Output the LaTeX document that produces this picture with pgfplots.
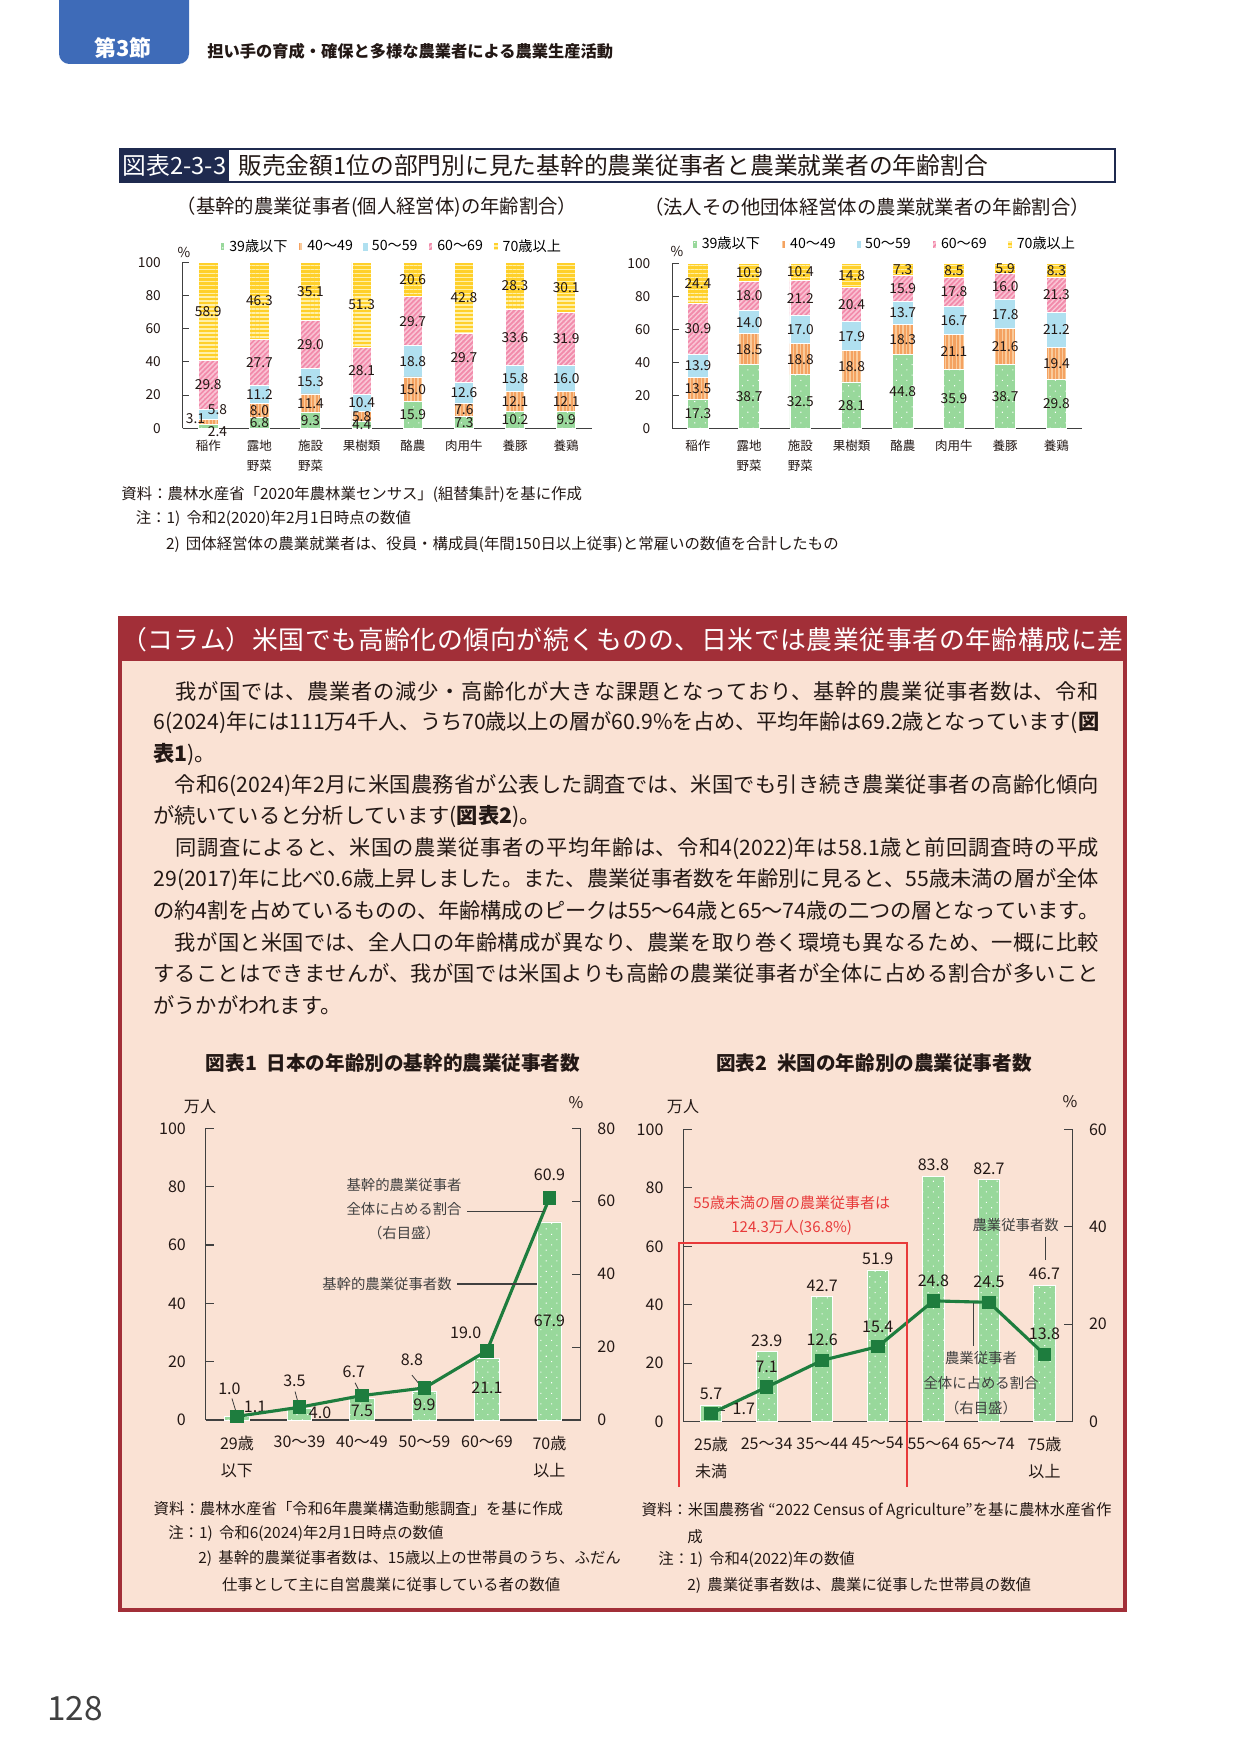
\documentclass[border=0pt]{standalone}
\usepackage{fontspec}
\setmainfont{Noto Sans CJK JP}
\usepackage{pgfplots}
\usepackage{pgfplotstable}
\pgfplotsset{compat=1.18}
\usetikzlibrary{patterns.meta}

\XeTeXlinebreaklocale "ja"
\XeTeXlinebreakskip=0pt plus 4pt minus 0.8pt

\definecolor{cGreen}{HTML}{98D89B}
\definecolor{cOrange}{HTML}{F4A261}
\definecolor{cOrangeL}{HTML}{F9CB9C}
\definecolor{cBlue}{HTML}{B0E0F0}
\definecolor{cPink}{HTML}{F28BAB}
\definecolor{cPinkL}{HTML}{F9C6D6}
\definecolor{cYellow}{HTML}{FFD02A}
\definecolor{cYellowL}{HTML}{FFF0A8}
\definecolor{cLine}{HTML}{1E7D3E}
\definecolor{tabBlue}{HTML}{3E6BB8}
\definecolor{navy}{HTML}{1F2A4F}
\definecolor{colRed}{HTML}{A22F38}
\definecolor{peach}{HTML}{FAE2D4}
\definecolor{annoRed}{HTML}{E83A3A}
\definecolor{axisGray}{HTML}{404040}
\definecolor{txt}{HTML}{231815}

\newcommand{\fs}[1]{\fontsize{#1}{#1}\selectfont}
\newcommand{\jline}[2]{\parbox{#1}{\parfillskip=0pt\relax #2}}

\pgfplotstableread{
x a b c d e
0 2.4 3.1 5.8 29.8 58.9
1 6.8 8.0 11.2 27.7 46.3
2 9.3 11.4 15.3 29.0 35.1
3 4.4 5.8 10.4 28.1 51.3
4 15.9 15.0 18.8 29.7 20.6
5 7.3 7.6 12.6 29.7 42.8
6 10.2 12.1 15.8 33.6 28.3
7 9.9 12.1 16.0 31.9 30.1
}\dataA

\pgfplotstableread{
x a b c d e
0 17.3 13.5 13.9 30.9 24.4
1 38.7 18.5 14.0 18.0 10.9
2 32.5 18.8 17.0 21.2 10.4
3 28.1 18.8 17.9 20.4 14.8
4 44.8 18.3 13.7 15.9 7.3
5 35.9 21.1 16.7 17.8 8.5
6 38.7 21.6 17.8 16.0 5.9
7 29.8 19.4 21.2 21.3 8.3
}\dataB

\pgfplotstableread{
x n p
0 1.1 1.0
1 4.0 3.5
2 7.5 6.7
3 9.9 8.8
4 21.1 19.0
5 67.9 60.9
}\dataC

\pgfplotstableread{
x n p
0 5.7 1.7
1 23.9 7.1
2 42.7 12.6
3 51.9 15.4
4 83.8 24.8
5 82.7 24.5
6 46.7 13.8
}\dataD

\pgfplotsset{
  swatch/.style={legend image code/.code={\path[##1,draw=none] (0pt,-1.9pt) rectangle (2.1pt,1.9pt);}},
  s39/.style={fill=cGreen, draw=white, line width=0.4pt, postaction={pattern={Dots[distance=3.6pt,radius=0.35pt,angle=45]}, pattern color=white}, swatch},
  s40/.style={fill=cOrange, draw=white, line width=0.4pt, postaction={pattern={Lines[angle=90,distance=1.7pt,line width=0.7pt]}, pattern color=cOrangeL}, swatch},
  s50/.style={fill=cBlue, draw=white, line width=0.4pt, swatch},
  s60/.style={fill=cPink, draw=white, line width=0.4pt, postaction={pattern={Lines[angle=45,distance=1.7pt,line width=0.7pt]}, pattern color=cPinkL}, swatch},
  s70/.style={fill=cYellow, draw=white, line width=0.4pt, postaction={pattern={Lines[angle=0,distance=1.9pt,line width=0.8pt]}, pattern color=cYellowL}, swatch},
  numfmt/.style={nodes near coords={\pgfmathprintnumber[fixed,fixed zerofill,precision=1,assume math mode=true]{\pgfplotspointmeta}}},
  topaxis/.style={
    scale only axis, anchor=south west,
    xmin=-0.5, xmax=7.5, ymin=0, ymax=100,
  },
}

\begin{document}
\begin{tikzpicture}
\path[use as bounding box] (0pt,0pt) rectangle (595.68pt,-841.92pt);
\fill[white] (0pt,0pt) rectangle (595.68pt,-841.92pt);

\begin{scope}[x=0.48pt,y=-0.48pt]
% header
\fill[tabBlue, rounded corners=5] (59,-12) rectangle (189,64);
\node[text=white, font=\fs{10.5}\bfseries] at (123,48) {第3節};
\node[anchor=west, text=txt, font=\fs{7.8}\bfseries, inner sep=0] at (207,51) {担い手の育成・確保と多様な農業者による農業生産活動};
% figure title
\draw[navy, line width=1pt] (120,149) rectangle (1115,182);
\fill[navy] (120,149) rectangle (229,182);
\node[text=white, font=\fs{11.4}] at (174.5,165.5) {図表2-3-3};
\node[anchor=west, text=txt, font=\fs{11.4}, inner sep=0] at (238,165.5) {販売金額1位の部門別に見た基幹的農業従事者と農業就業者の年齢割合};
\node[text=txt, font=\fs{9.3}] at (377,207) {（基幹的農業従事者(個人経営体)の年齢割合）};
\node[text=txt, font=\fs{9.3}] at (867,207) {（法人その他団体経営体の農業就業者の年齢割合）};
\node[text=txt, font=\fs{6.6}] at (184,252) {\%};
\node[text=txt, font=\fs{6.6}] at (677,251) {\%};
% notes
\node[anchor=west, text=txt, font=\fs{7.4}, inner sep=0] at (121,494.6) {資料：農林水産省「2020年農林業センサス」(組替集計)を基に作成};
\node[anchor=west, text=txt, font=\fs{7.4}, inner sep=0] at (135.4,519) {注：1)\hspace{0.4em}令和2(2020)年2月1日時点の数値};
\node[anchor=west, text=txt, font=\fs{7.4}, inner sep=0] at (165.6,545) {2)\hspace{0.4em}団体経営体の農業就業者は、役員・構成員(年間150日以上従事)と常雇いの数値を合計したもの};
% column box
\fill[peach] (120,618) rectangle (1125,1610);
\fill[colRed] (120,618) rectangle (1125,661);
\draw[colRed, line width=1.5pt] (120,618) rectangle (1125,1610);
\node[anchor=west, text=white, font=\fs{12.4}, inner sep=0] at (121,639.5) {\jline{481pt}{（コラム）米国でも高齢化の傾向が続くものの、日米では農業従事者の年齢構成に差}};
% body
\begin{scope}[every node/.style={anchor=west, text=txt, font=\fs{10.2}, inner sep=0}]
\node at (153,691.5) {\jline{454pt}{　我が国では、農業者の減少・高齢化が大きな課題となっており、基幹的農業従事者数は、令和}};
\node at (153,722.8) {\jline{454pt}{6(2024)年には111万4千人、うち70歳以上の層が60.9\%を占め、平均年齢は69.2歳となっています({\bfseries 図}}};
\node at (153,754.2) {{\bfseries 表1})。};
\node at (153,785.5) {\jline{454pt}{　令和6(2024)年2月に米国農務省が公表した調査では、米国でも引き続き農業従事者の高齢化傾向}};
\node at (153,816.8) {が続いていると分析しています({\bfseries 図表2})。};
\node at (153,848.2) {\jline{454pt}{　同調査によると、米国の農業従事者の平均年齢は、令和4(2022)年は58.1歳と前回調査時の平成}};
\node at (153,879.5) {\jline{454pt}{29(2017)年に比べ0.6歳上昇しました。また、農業従事者数を年齢別に見ると、55歳未満の層が全体}};
\node at (153,910.8) {\jline{454pt}{の約4割を占めているものの、年齢構成のピークは55〜64歳と65〜74歳の二つの層となっています。}};
\node at (153,942.2) {\jline{454pt}{　我が国と米国では、全人口の年齢構成が異なり、農業を取り巻く環境も異なるため、一概に比較}};
\node at (153,973.5) {\jline{454pt}{することはできませんが、我が国では米国よりも高齢の農業従事者が全体に占める割合が多いこと}};
\node at (153,1004.8) {がうかがわれます。};
\end{scope}
% chart titles
\node[text=txt, font=\fs{9.4}\bfseries] at (393,1063) {図表1\hspace{0.5em}日本の年齢別の基幹的農業従事者数};
\node[text=txt, font=\fs{9.4}\bfseries] at (874,1063) {図表2\hspace{0.5em}米国の年齢別の農業従事者数};
\node[text=txt, font=\fs{7.7}] at (200,1106.7) {万人};
\node[text=txt, font=\fs{7.7}] at (576,1103) {\%};
\node[text=txt, font=\fs{7.7}] at (683,1106.7) {万人};
\node[text=txt, font=\fs{7.7}] at (1070,1102) {\%};
% bottom notes
\begin{scope}[every node/.style={anchor=west, text=txt, font=\fs{7.4}, inner sep=0}]
\node at (153.3,1508.4) {資料：農林水産省「令和6年農業構造動態調査」を基に作成};
\node at (167.9,1534) {注：1)\hspace{0.4em}令和6(2024)年2月1日時点の数値};
\node at (198,1558.8) {2)\hspace{0.4em}基幹的農業従事者数は、15歳以上の世帯員のうち、ふだん};
\node at (221.6,1584.5) {仕事として主に自営農業に従事している者の数値};
\node at (641.2,1510.6) {資料：米国農務省 “2022 Census of Agriculture”を基に農林水産省作};
\node at (687,1536.4) {成};
\node at (658,1560) {注：1)\hspace{0.4em}令和4(2022)年の数値};
\node at (687,1585.6) {2)\hspace{0.4em}農業従事者数は、農業に従事した世帯員の数値};
\end{scope}
\node[text=axisGray, font=\fs{16}] at (75,1709) {128};
\end{scope}

% ---------- Chart A ----------
\begin{axis}[topaxis,
  at={(87.70pt,-205.58pt)}, width=196.32pt, height=79.68pt,
  ybar stacked, bar width=9.26pt,
  axis x line*=bottom, axis y line*=left,
  axis line style={draw=axisGray, line width=0.5pt},
  ytick={0,20,40,60,80,100}, tick align=inside, major tick length=3pt,
  ytick style={draw=axisGray, line width=0.5pt},
  yticklabel style={font=\fs{6.6}, text=txt, xshift=-7pt},
  /pgf/number format/assume math mode=true,
  xtick={0,...,7}, xtick style={draw=none},
  xticklabels={稲作,{露地\\野菜},{施設\\野菜},果樹類,酪農,肉用牛,養豚,養鶏},
  xticklabel style={font=\fontsize{6}{9.6}\selectfont, align=center, text=txt, yshift=-2pt},
  legend columns=5,
  legend style={at={(0.09,1.094)}, anchor=west, draw=none, fill=none, font=\fs{6.8}, inner sep=0pt,
    /tikz/every even column/.append style={column sep=3pt}},
  clip=false,
]
\addplot[s39] table[x=x,y=a]{\dataA};
\addplot[s40] table[x=x,y=b]{\dataA};
\addplot[s50] table[x=x,y=c]{\dataA};
\addplot[s60] table[x=x,y=d]{\dataA};
\addplot[s70] table[x=x,y=e]{\dataA};
\legend{39歳以下,40〜49,50〜59,60〜69,70歳以上}
\end{axis}
\begin{axis}[topaxis,
  at={(87.70pt,-205.58pt)}, width=196.32pt, height=79.68pt,
  hide axis, clip=false, point meta=explicit, numfmt,
  nodes near coords align=center,
  every node near coord/.append style={font=\fs{6.6}, text=txt, inner sep=0pt},
]
\addplot[draw=none, restrict x to domain=0.5:8] table[x=x, y expr=\thisrow{a}/2, meta=a]{\dataA};
\addplot[draw=none, restrict x to domain=0.5:8] table[x=x, y expr=\thisrow{a}+\thisrow{b}/2, meta=b]{\dataA};
\addplot[draw=none, restrict x to domain=0.5:8] table[x=x, y expr=\thisrow{a}+\thisrow{b}+\thisrow{c}/2, meta=c]{\dataA};
\addplot[draw=none] table[x=x, y expr=\thisrow{a}+\thisrow{b}+\thisrow{c}+\thisrow{d}/2, meta=d]{\dataA};
\addplot[draw=none] table[x=x, y expr=\thisrow{a}+\thisrow{b}+\thisrow{c}+\thisrow{d}+\thisrow{e}/2, meta=e]{\dataA};
\node[font=\fs{6.6}, text=txt, inner sep=0pt] at (axis cs:0.18,-2.0) {2.4};
\node[font=\fs{6.6}, text=txt, inner sep=0pt] at (axis cs:-0.25,6.0) {3.1};
\node[font=\fs{6.6}, text=txt, inner sep=0pt] at (axis cs:0.18,11.0) {5.8};
\end{axis}

% ---------- Chart B ----------
\begin{axis}[topaxis,
  at={(322.70pt,-205.58pt)}, width=196.66pt, height=79.2pt,
  ybar stacked, bar width=9.94pt,
  axis x line*=bottom, axis y line*=left,
  axis line style={draw=axisGray, line width=0.5pt},
  ytick={0,20,40,60,80,100}, tick align=inside, major tick length=3pt,
  ytick style={draw=axisGray, line width=0.5pt},
  yticklabel style={font=\fs{6.6}, text=txt, xshift=-7pt},
  /pgf/number format/assume math mode=true,
  xtick={0,...,7}, xtick style={draw=none},
  xticklabels={稲作,{露地\\野菜},{施設\\野菜},果樹類,酪農,肉用牛,養豚,養鶏},
  xticklabel style={font=\fontsize{6}{9.6}\selectfont, align=center, text=txt, yshift=-2pt},
  legend columns=5,
  legend style={at={(0.048,1.114)}, anchor=west, draw=none, fill=none, font=\fs{6.8}, inner sep=0pt,
    /tikz/every even column/.append style={column sep=8pt}},
  clip=false,
]
\addplot[s39] table[x=x,y=a]{\dataB};
\addplot[s40] table[x=x,y=b]{\dataB};
\addplot[s50] table[x=x,y=c]{\dataB};
\addplot[s60] table[x=x,y=d]{\dataB};
\addplot[s70] table[x=x,y=e]{\dataB};
\legend{39歳以下,40〜49,50〜59,60〜69,70歳以上}
\end{axis}
\begin{axis}[topaxis,
  at={(322.70pt,-205.58pt)}, width=196.66pt, height=79.2pt,
  hide axis, clip=false, point meta=explicit, numfmt,
  nodes near coords align=center,
  every node near coord/.append style={font=\fs{6.6}, text=txt, inner sep=0pt},
]
\addplot[draw=none] table[x=x, y expr=\thisrow{a}/2, meta=a]{\dataB};
\addplot[draw=none] table[x=x, y expr=\thisrow{a}+\thisrow{b}/2, meta=b]{\dataB};
\addplot[draw=none] table[x=x, y expr=\thisrow{a}+\thisrow{b}+\thisrow{c}/2, meta=c]{\dataB};
\addplot[draw=none] table[x=x, y expr=\thisrow{a}+\thisrow{b}+\thisrow{c}+\thisrow{d}/2, meta=d]{\dataB};
\addplot[draw=none] table[x=x, y expr=\thisrow{a}+\thisrow{b}+\thisrow{c}+\thisrow{d}+\thisrow{e}/2, meta=e]{\dataB};
\end{axis}

% ---------- Chart C ----------
\begin{axis}[
  at={(98.74pt,-681.6pt)}, anchor=south west, scale only axis, width=180pt, height=140pt,
  xmin=-0.5, xmax=5.5, ymin=0, ymax=100,
  ybar, bar width=11.66pt,
  axis x line*=bottom, axis y line*=left,
  axis line style={draw=axisGray, line width=0.5pt},
  ytick={0,20,40,60,80,100}, tick align=inside, major tick length=4pt,
  ytick style={draw=axisGray, line width=0.5pt},
  yticklabel style={font=\fs{7.7}, text=txt, xshift=-6pt},
  /pgf/number format/assume math mode=true,
  xtick={0,...,5}, xtick style={draw=none},
  xticklabels={{29歳\\以下},30〜39,40〜49,50〜59,60〜69,{70歳\\以上}},
  xticklabel style={font=\fontsize{7.7}{13}\selectfont, align=center, text=txt, yshift=-4pt},
  clip=false,
]
\addplot[s39] table[x=x,y=n]{\dataC};
\node[font=\fs{7.7}, text=txt] at (axis cs:0.29,4.6) {1.1};
\node[font=\fs{7.7}, text=txt] at (axis cs:1.33,2.5) {4.0};
\node[font=\fs{7.7}, text=txt] at (axis cs:2,3.2) {7.5};
\node[font=\fs{7.7}, text=txt] at (axis cs:3,5.1) {9.9};
\node[font=\fs{7.7}, text=txt] at (axis cs:4,10.9) {21.1};
\node[font=\fs{7.7}, text=txt] at (axis cs:5,33.9) {67.9};
\end{axis}
\begin{axis}[
  at={(98.74pt,-681.6pt)}, anchor=south west, scale only axis, width=180pt, height=140pt,
  xmin=-0.5, xmax=5.5, ymin=0, ymax=80,
  axis x line=none, axis y line*=right,
  axis line style={draw=axisGray, line width=0.5pt},
  ytick={0,20,40,60,80}, tick align=inside, major tick length=4pt,
  ytick style={draw=axisGray, line width=0.5pt},
  yticklabel style={font=\fs{7.7}, text=txt, xshift=4.5pt},
  /pgf/number format/assume math mode=true,
  clip=false,
]
\draw[axisGray, line width=0.4pt] (axis cs:-0.08,5.9) -- (axis cs:-0.01,2.0);
\draw[axisGray, line width=0.4pt] (axis cs:0.93,7.8) -- (axis cs:0.98,4.6);
\draw[axisGray, line width=0.4pt] (axis cs:1.89,10.2) -- (axis cs:1.96,7.8);
\draw[axisGray, line width=0.4pt] (axis cs:2.8,12.3) -- (axis cs:2.92,9.8);
\addplot[cLine, line width=1.5pt, mark=square*, mark size=3pt, mark options={fill=cLine, line width=0.5pt}] table[x=x,y=p]{\dataC};
\node[font=\fs{7.7}, text=txt] at (axis cs:-0.12,8.7) {1.0};
\node[font=\fs{7.7}, text=txt] at (axis cs:0.92,10.8) {3.5};
\node[font=\fs{7.7}, text=txt] at (axis cs:1.87,13.2) {6.7};
\node[font=\fs{7.7}, text=txt] at (axis cs:2.8,16.5) {8.8};
\node[font=\fs{7.7}, text=txt] at (axis cs:3.66,23.8) {19.0};
\node[font=\fs{7.7}, text=txt] at (axis cs:5,67.2) {60.9};
\end{axis}

% ---------- Chart D ----------
\begin{axis}[
  at={(327.98pt,-682.42pt)}, anchor=south west, scale only axis, width=186.72pt, height=140.35pt,
  xmin=-0.5, xmax=6.5, ymin=0, ymax=100,
  ybar, bar width=10.2pt,
  axis x line*=bottom, axis y line*=left,
  axis line style={draw=axisGray, line width=0.5pt},
  ytick={0,20,40,60,80,100}, tick align=inside, major tick length=4pt,
  ytick style={draw=axisGray, line width=0.5pt},
  yticklabel style={font=\fs{7.7}, text=txt, xshift=-6pt},
  /pgf/number format/assume math mode=true,
  xtick={0,...,6}, xtick style={draw=none},
  xticklabels={{25歳\\未満},25〜34,35〜44,45〜54,55〜64,65〜74,{75歳\\以上}},
  xticklabel style={font=\fontsize{7.7}{13}\selectfont, align=center, text=txt, yshift=-4pt},
  numfmt,
  every node near coord/.append style={font=\fs{7.7}, text=txt, inner sep=1pt, yshift=1.5pt},
  clip=false,
]
\addplot[s39] table[x=x,y=n]{\dataD};
\end{axis}
\begin{axis}[
  at={(327.98pt,-682.42pt)}, anchor=south west, scale only axis, width=186.72pt, height=140.35pt,
  xmin=-0.5, xmax=6.5, ymin=0, ymax=60,
  axis x line=none, axis y line*=right,
  axis line style={draw=axisGray, line width=0.5pt},
  ytick={0,20,40,60}, tick align=inside, major tick length=4pt,
  ytick style={draw=axisGray, line width=0.5pt},
  yticklabel style={font=\fs{7.7}, text=txt, xshift=4.5pt},
  /pgf/number format/assume math mode=true,
  clip=false,
]
\draw[axisGray, line width=0.4pt] (axis cs:0.05,2.3) -- (axis cs:0.25,2.3);
\addplot[cLine, line width=1.5pt, mark=square*, mark size=3pt, mark options={fill=cLine, line width=0.5pt}] table[x=x,y=p]{\dataD};
\addplot[draw=none, restrict x to domain=0.5:7, numfmt,
  every node near coord/.append style={font=\fs{7.7}, text=txt, inner sep=1pt, yshift=5.7pt}] table[x=x,y=p]{\dataD};
\node[font=\fs{7.7}, text=txt] at (axis cs:0.59,2.54) {1.7};
\end{axis}

% ---------- annotations on top ----------
\begin{scope}[x=0.48pt,y=-0.48pt]
\begin{scope}[every node/.style={text=axisGray, font=\fs{6.9}}]
\node at (404,1185) {基幹的農業従事者};
\node at (404,1209) {全体に占める割合};
\node at (404,1233) {（右目盛）};
\node at (387,1284) {基幹的農業従事者数};
\node at (1015.7,1225) {農業従事者数};
\node at (981,1358.3) {農業従事者};
\node at (981,1383.3) {全体に占める割合};
\node at (981,1408.3) {（右目盛）};
\end{scope}
\draw[axisGray, line width=0.5pt] (467,1211.7) -- (544,1211.7);
\draw[axisGray, line width=0.5pt] (457,1284) -- (537,1284);
\draw[axisGray, line width=0.5pt] (1045.7,1236.7) -- (1045.7,1260);
\draw[axisGray, line width=0.5pt] (973.3,1303) -- (973.3,1346);
\draw[annoRed, line width=1pt] (679,1487) -- (679,1243) -- (907,1243) -- (907,1487);
\node[text=annoRed, font=\fs{7.2}] at (791.7,1203.3) {55歳未満の層の農業従事者は};
\node[text=annoRed, font=\fs{7.2}] at (791.7,1228.3) {124.3万人(36.8\%)};
\end{scope}
\end{tikzpicture}
\end{document}
